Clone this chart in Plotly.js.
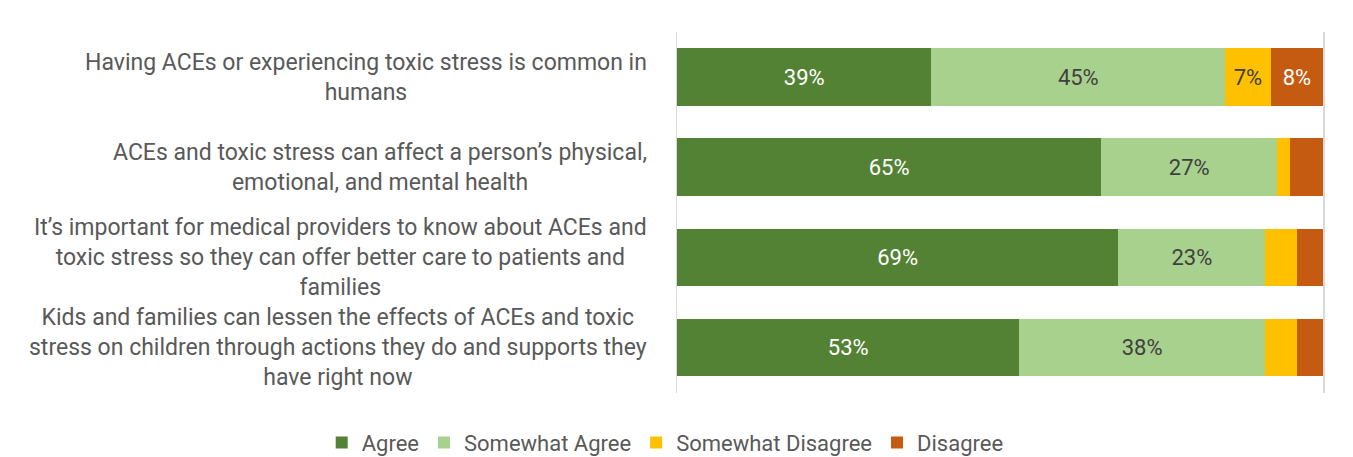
<!DOCTYPE html>
<html>
<head>
<meta charset="utf-8">
<script src="https://cdn.plot.ly/plotly-3.0.1.min.js"></script>
<style>html,body{margin:0;padding:0;background:#fff;}#chart{width:1353px;height:457px;}</style>
</head>
<body>
<div id="chart"></div>
<script>
const categories = [
  "Having ACEs or experiencing toxic stress is common in<br>humans",
  "ACEs and toxic stress can affect a person’s physical,<br>emotional, and mental health",
  "It’s important for medical providers to know about ACEs and<br>toxic stress so they can offer better care to patients and<br>families",
  "Kids and families can lessen the effects of ACEs and toxic<br>stress on children through actions they do and supports they<br>have right now"
];
const seriesNames = ["Agree", "Somewhat Agree", "Somewhat Disagree", "Disagree"];
const agree = [39, 65, 69, 53];
const somewhatAgree = [45, 27, 23, 38];
const somewhatDisagree = [7, 2, 5, 5];
const disagree = [8, 5, 4, 4];

const seriesValues = [agree, somewhatAgree, somewhatDisagree, disagree];
const colors = ["#548235", "#A9D18E", "#FFC000", "#C55A11"];
const textColors = ["#FFFFFF", "#404040", "#404040", "#FFFFFF"];

const traces = seriesValues.map((vals, i) => ({
  type: "bar",
  orientation: "h",
  name: seriesNames[i],
  y: categories,
  x: vals,
  text: vals.map(v => v >= 7 ? v + "%" : ""),
  textposition: "inside",
  insidetextanchor: "middle",
  textangle: 0,
  textfont: {family: "Liberation Sans Narrow, Arial Narrow, Roboto, Liberation Sans, sans-serif", size: 22, color: textColors[i]},
  constraintext: "none",
  marker: {color: colors[i], line: {width: 0}},
  hoverinfo: "name+x"
}));

const annotations = categories.map(c => ({
  xref: "paper", yref: "y",
  x: -0.044, y: c,
  xanchor: "right", yanchor: "middle",
  align: "center",
  text: c,
  showarrow: false,
  font: {family: "Roboto, Noto Sans, sans-serif", size: 23, color: "#595959"}
}));

const layout = {
  width: 1353, height: 457,
  margin: {l: 677, r: 30, t: 32, b: 64, autoexpand: false},
  barmode: "stack",
  barnorm: "percent",
  bargap: 0.36,
  paper_bgcolor: "#fff",
  plot_bgcolor: "#fff",
  showlegend: true,
  legend: {
    orientation: "h",
    x: -0.55, xanchor: "left",
    y: -0.138, yanchor: "middle",
    traceorder: "normal",
    font: {family: "Roboto, Noto Sans, sans-serif", size: 22, color: "#595959"},
    itemwidth: 30
  },
  xaxis: {
    range: [0, 100],
    showgrid: false,
    zeroline: false,
    showticklabels: false,
    showline: false,
    fixedrange: true
  },
  yaxis: {
    autorange: "reversed",
    showticklabels: false,
    showgrid: false,
    zeroline: false,
    showline: true,
    mirror: true,
    linecolor: "#D9D9D9",
    linewidth: 1.5,
    ticks: ""
  },
  annotations: annotations
};

Plotly.newPlot("chart", traces, layout, {displayModeBar: false, staticPlot: true});
</script>
</body>
</html>
